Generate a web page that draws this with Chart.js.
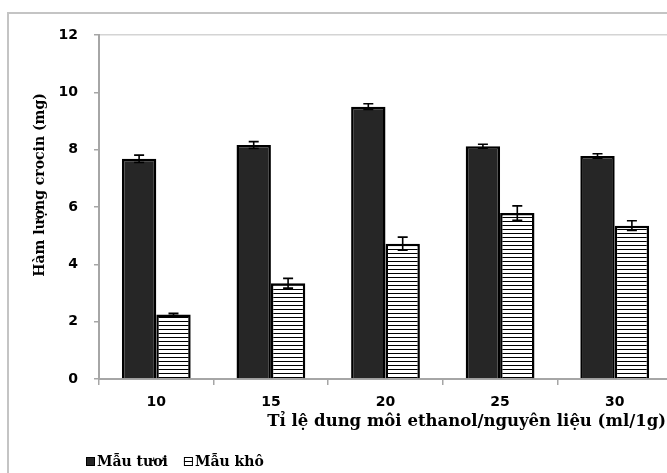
<!DOCTYPE html>
<html>
<head>
<meta charset="utf-8">
<script src="https://cdn.jsdelivr.net/npm/chart.js@4/dist/chart.umd.min.js"></script>
<style>
  html, body { margin: 0; padding: 0; background: #fff; overflow: hidden; width: 667px; height: 473px; }
  #wrap { width: 680px; height: 473px; position: relative; }
  canvas { display: block; }
</style>
</head>
<body>
<div id="wrap"><canvas id="c" width="680" height="473"></canvas></div>
<script>
const categories = ['10', '15', '20', '25', '30'];
const seriesNames = ['Mẫu tươi', 'Mẫu khô'];
const freshValues = [7.68, 8.16, 9.50, 8.12, 7.78];
const freshErrors = [0.13, 0.12, 0.10, 0.07, 0.08];
const dryValues = [2.25, 3.34, 4.72, 5.79, 5.35];
const dryErrors = [0.04, 0.17, 0.23, 0.25, 0.17];
const yMin = 0, yMax = 12, yStep = 2;
const yTitle = 'Hàm lượng crocin (mg)';
const xTitle = 'Tỉ lệ dung môi ethanol/nguyên liệu (ml/1g)';

function hatchPattern(ctx) {
  const p = document.createElement('canvas');
  p.width = 8; p.height = 4;
  const g = p.getContext('2d');
  g.fillStyle = '#ffffff'; g.fillRect(0, 0, 8, 4);
  g.fillStyle = '#000000'; g.fillRect(0, 1, 8, 1);
  return ctx.createPattern(p, 'repeat');
}
const ctx0 = document.getElementById('c').getContext('2d');
const hatch = hatchPattern(ctx0);

const errorSets = [freshErrors, dryErrors];

const framePlugin = {
  id: 'frame',
  beforeDraw(chart) {
    const c = chart.ctx;
    const a = chart.chartArea;
    c.save();
    c.fillStyle = '#ffffff';
    c.fillRect(0, 0, chart.width, chart.height);
    c.fillStyle = '#c4c4c4';
    c.fillRect(7, 12, chart.width, 2);
    c.fillRect(7, 12, 2, chart.height);
    c.fillStyle = '#d4d4d4';
    c.fillRect(a.left, a.top - 1, chart.width, 1.5);
    c.restore();
  }
};

const errorPlugin = {
  id: 'errorbars',
  afterDatasetsDraw(chart) {
    const c = chart.ctx;
    const y = chart.scales.y;
    c.save();
    c.strokeStyle = '#000';
    c.lineWidth = 1.6;
    chart.data.datasets.forEach((ds, di) => {
      const meta = chart.getDatasetMeta(di);
      meta.data.forEach((bar, i) => {
        const v = ds.data[i], e = errorSets[di][i];
        const x = bar.x;
        const y1 = y.getPixelForValue(v + e), y2 = y.getPixelForValue(v - e);
        c.beginPath();
        c.moveTo(x, y1); c.lineTo(x, y2);
        c.moveTo(x - 5, y1); c.lineTo(x + 5, y1);
        c.moveTo(x - 5, y2); c.lineTo(x + 5, y2);
        c.stroke();
      });
    });
    c.restore();
  }
};

const textPlugin = {
  id: 'texts',
  afterDraw(chart) {
    const c = chart.ctx;
    c.save();
    c.fillStyle = '#000';
    // y title
    c.font = 'bold 14px "DejaVu Serif"';
    c.textAlign = 'center';
    c.textBaseline = 'middle';
    c.save();
    c.translate(40, 185);
    c.rotate(-Math.PI / 2);
    c.fillText(yTitle, 0, 0);
    c.restore();
    // x title
    c.font = 'bold 16.5px "DejaVu Serif"';
    c.textAlign = 'right';
    c.fillText(xTitle, 666, 422);
    // legend
    c.font = 'bold 14px "DejaVu Serif"';
    c.textAlign = 'left';
    let lx = 86;
    chart.data.datasets.forEach((ds, di) => {
      c.fillStyle = di === 0 ? ds.backgroundColor : '#ffffff';
      c.fillRect(lx, 457, 9, 9);
      c.strokeStyle = '#000'; c.lineWidth = 1;
      c.strokeRect(lx + 0.5, 457.5, 8, 8);
      if (di === 1) { c.beginPath(); c.moveTo(lx, 461.5); c.lineTo(lx + 9, 461.5); c.stroke(); }
      c.fillStyle = '#000';
      c.fillText(ds.label, lx + 11, 462);
      lx += 11 + c.measureText(ds.label).width + 16;
    });
    c.restore();
  }
};

new Chart(ctx0, {
  type: 'bar',
  data: {
    labels: categories,
    datasets: [
      { label: seriesNames[0], data: freshValues, backgroundColor: '#262626', borderColor: '#000', borderWidth: 2.5 },
      { label: seriesNames[1], data: dryValues, backgroundColor: hatch, borderColor: '#000', borderWidth: 2.5 }
    ]
  },
  options: {
    responsive: false,
    animation: false,
    devicePixelRatio: 1,
    layout: { padding: { top: 35, right: 8, left: 0, bottom: 0 } },
    datasets: { bar: { categoryPercentage: 0.6, barPercentage: 1.0 } },
    plugins: { legend: { display: false }, tooltip: { enabled: false } },
    scales: {
      x: {
        offset: true,
        grid: { display: true, offset: true, drawOnChartArea: false, drawTicks: true, tickLength: 6, color: '#a6a6a6', lineWidth: 1.5 },
        border: { display: true, color: '#a6a6a6', width: 2 },
        ticks: { color: '#000', font: { family: 'DejaVu Sans', weight: 'bold', size: 14 }, padding: 9 },
        afterFit(s) { s.height = 94; }
      },
      y: {
        min: yMin, max: yMax,
        grid: { display: true, drawOnChartArea: false, drawTicks: true, tickLength: 5, color: '#a6a6a6', lineWidth: 1.5 },
        border: { display: true, color: '#a6a6a6', width: 2 },
        ticks: { stepSize: yStep, color: '#000', font: { family: 'DejaVu Sans', weight: 'bold', size: 14 }, padding: 16 },
        afterFit(s) { s.width = 99; }
      }
    }
  },
  plugins: [framePlugin, errorPlugin, textPlugin]
});
</script>
</body>
</html>
